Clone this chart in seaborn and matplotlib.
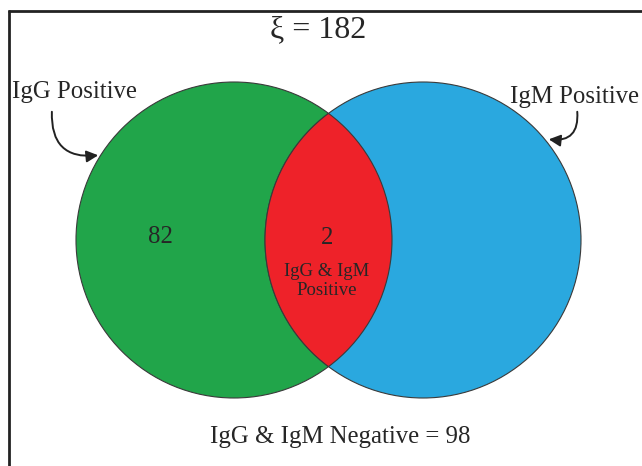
import matplotlib
matplotlib.use("Agg")
import matplotlib.pyplot as plt
from matplotlib.patches import Circle, FancyArrowPatch
import seaborn as sns

# Venn counts
total = 182
igg_only = 82
both = 2
negative = 98
set_names = ["IgG Positive", "IgM Positive"]
set_colors = ["#21a54a", "#2aa8df"]
overlap_color = "#ee2229"

sns.set_theme(style="white")
plt.rcParams["font.family"] = ["Liberation Serif", "DejaVu Serif"]

fig = plt.figure(figsize=(6.42, 4.66), dpi=100)
ax = fig.add_axes([0, 0, 1, 1])
ax.set_xlim(0, 642)
ax.set_ylim(466, 0)
ax.set_axis_off()

g_c, b_c, r = (234, 240), (423, 240), 158
ec = "#3a3a3a"

# circles
ax.add_patch(Circle(g_c, r, facecolor=set_colors[0], edgecolor=ec, lw=0.8))
ax.add_patch(Circle(b_c, r, facecolor=set_colors[1], edgecolor=ec, lw=0.8))

# overlap: red copy of the blue circle clipped to green circle
red = Circle(b_c, r, facecolor=overlap_color, edgecolor=ec, lw=0.8)
ax.add_patch(red)
red.set_clip_path(Circle(g_c, r, transform=ax.transData))
edge = Circle(g_c, r, facecolor="none", edgecolor=ec, lw=0.8)
ax.add_patch(edge)
edge.set_clip_path(Circle(b_c, r, transform=ax.transData))

# frame
ax.plot([8.5, 8.5], [10, 466], color="#222222", lw=2, solid_capstyle="butt")
ax.plot([8, 642], [10.5, 10.5], color="#222222", lw=2, solid_capstyle="butt")

# texts
ax.text(318, 30, "\u03be = " + str(total), ha="center", va="center", fontsize=23)
ax.text(12, 92, set_names[0], ha="left", va="center", fontsize=17.8)
ax.text(639, 97, set_names[1], ha="right", va="center", fontsize=17.8)
ax.text(160, 237, str(igg_only), ha="center", va="center", fontsize=17.8)
ax.text(327, 238, str(both), ha="center", va="center", fontsize=17.8)
ax.text(327, 281, "IgG & IgM\nPositive", ha="center", va="center", fontsize=13.5,
        linespacing=1.1)
ax.text(340, 437, "IgG & IgM Negative = " + str(negative), ha="center", va="center",
        fontsize=17.8)

# curved arrows
a1 = FancyArrowPatch((52, 109), (101, 155), connectionstyle="arc3,rad=0.6",
                     arrowstyle="-|>,head_length=7,head_width=3.5", color="#222222", lw=1.4)
a2 = FancyArrowPatch((577, 109), (546, 139), connectionstyle="arc3,rad=-0.65",
                     arrowstyle="-|>,head_length=7,head_width=3.5", color="#222222", lw=1.4)
ax.add_patch(a1)
ax.add_patch(a2)

fig.savefig("out.png", dpi=100)
